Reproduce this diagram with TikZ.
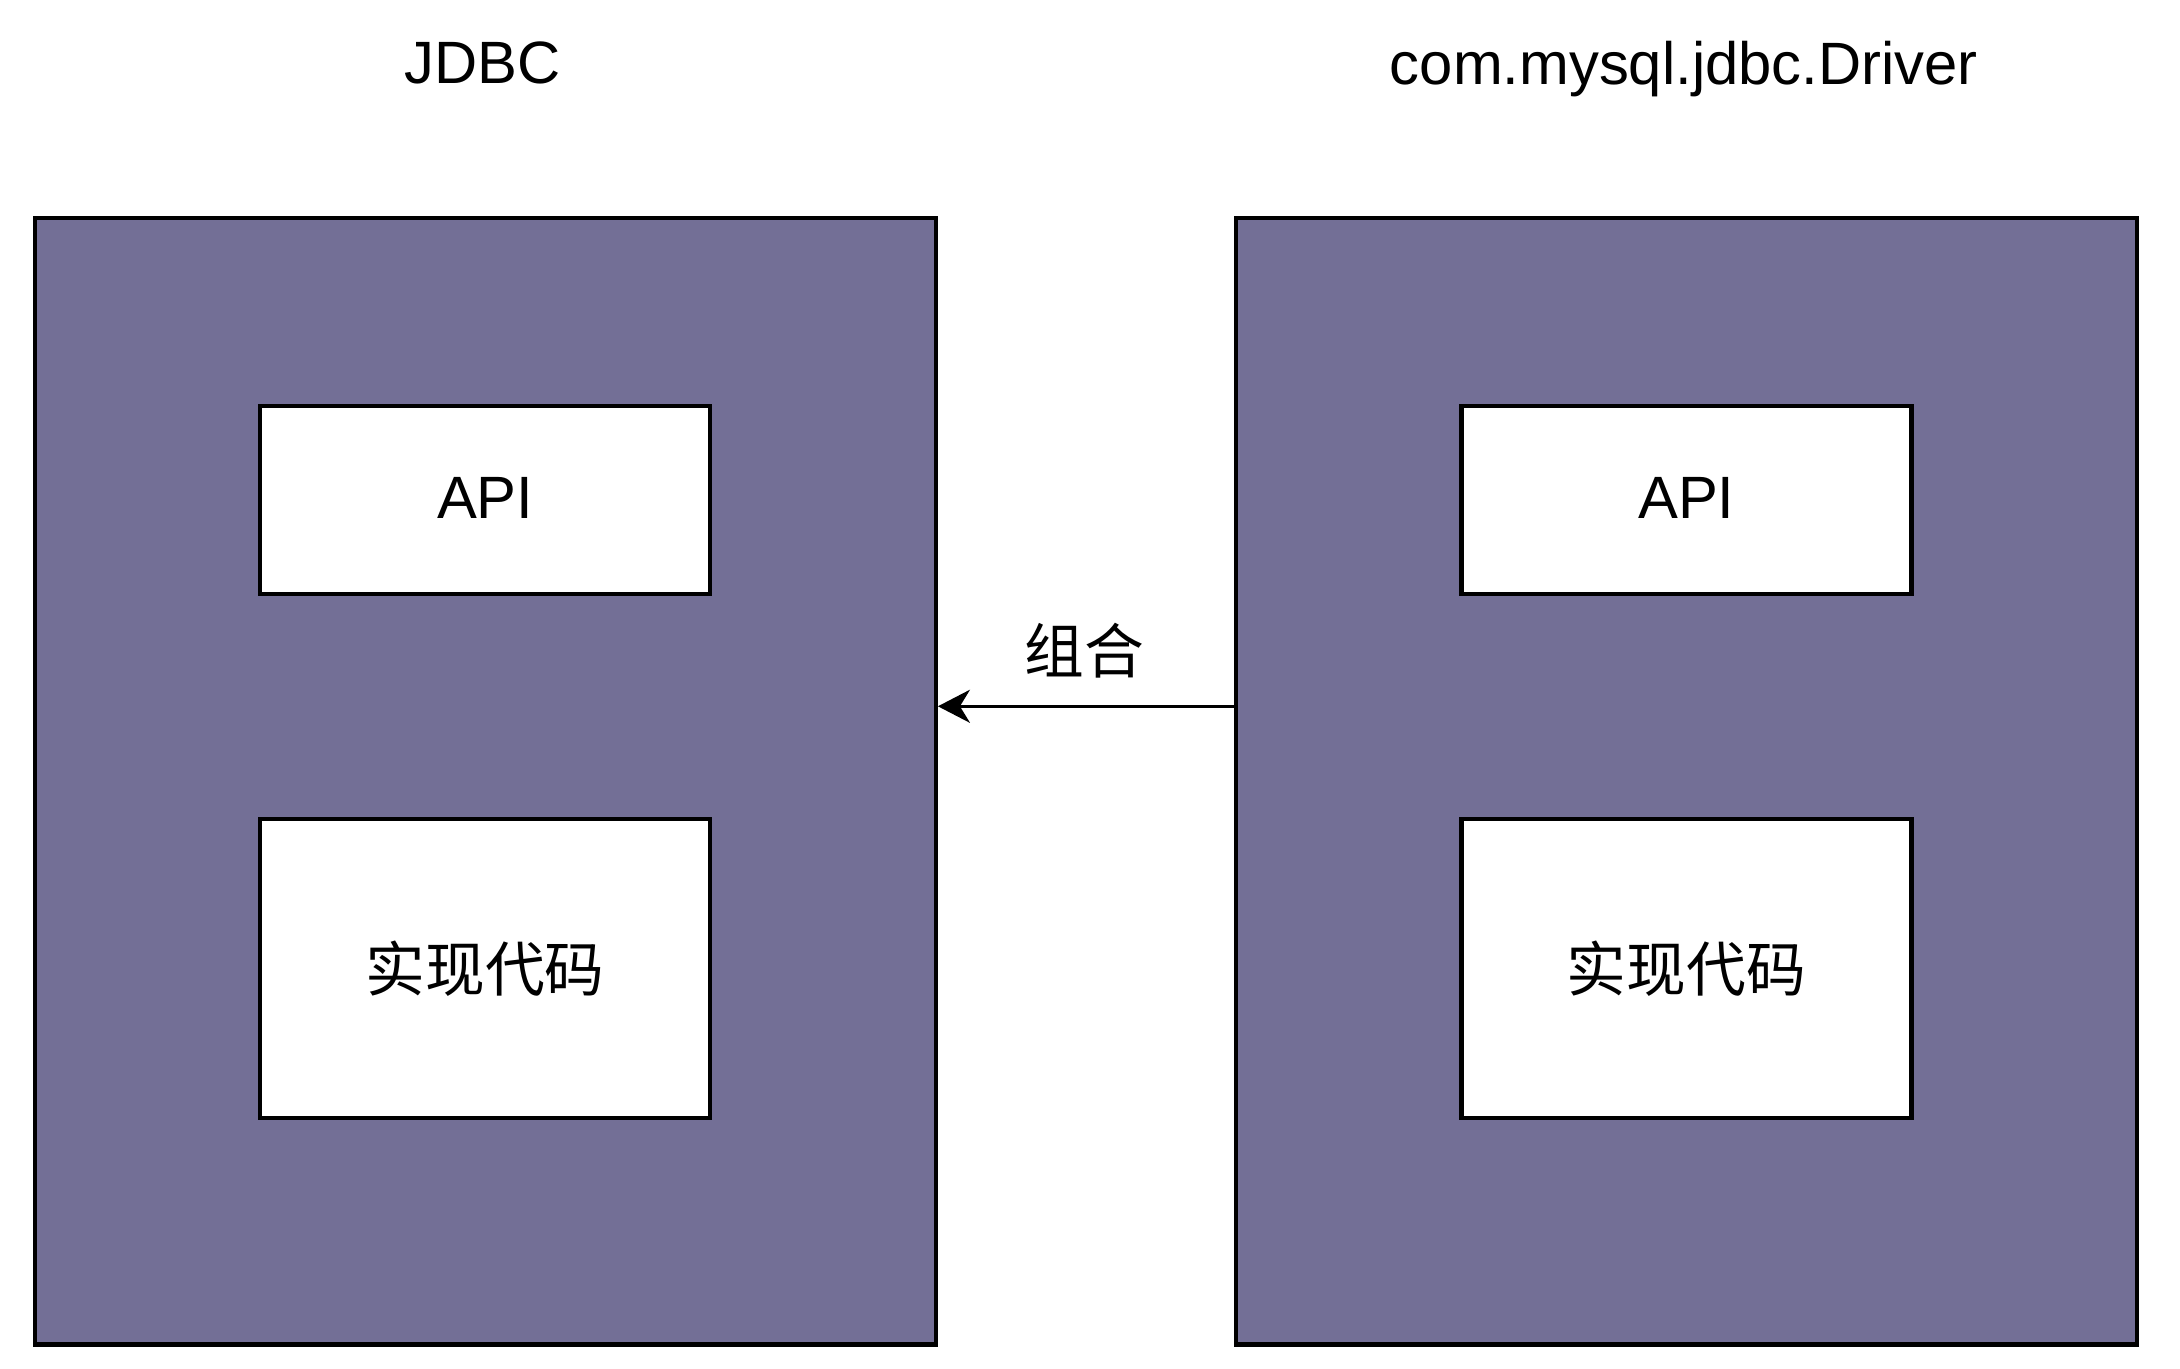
\documentclass[tikz,border=0pt]{standalone}
\usepackage{fontspec}
\setmainfont{Liberation Sans}
\newfontfamily\cjk{Noto Sans CJK SC}
\usepackage{tikz}
\usetikzlibrary{arrows.meta}
\definecolor{boxpurple}{RGB}{115,111,150}

\begin{document}
\begin{tikzpicture}[outer/.style={draw, fill=boxpurple, line width=1.2pt, minimum width=9.01cm, minimum height=11.26cm}, part/.style={draw, fill=white, line width=1.2pt, minimum width=4.5cm, inner sep=0pt, font=\fontsize{17}{20}\selectfont}, title/.style={font=\fontsize{17}{20}\selectfont}, n/.style={-{Stealth[length=3.2mm, width=3.3mm, inset=1mm]}, line width=0.9pt}]
                \useasboundingbox (0,0) rectangle (21.8,13.68);
                % nodes
                \node[title] (tjdbc) at (4.824,13.054) {JDBC};
                \node[title] (tdriver) at (16.837,12.99) {com.mysql.jdbc.Driver};
                \node[outer] (jdbc) at (4.853,5.866) {};
                \node[outer] (driver) at (16.865,5.866) {};
                \node[part, minimum height=1.877cm] (api1) at (4.852,8.681) {\raisebox{0.4mm}{API}};
                \node[part, minimum height=2.988cm] (impl1) at (4.852,3.996) {\cjk 实现代码};
                \node[part, minimum height=1.877cm] (api2) at (16.864,8.681) {\raisebox{0.4mm}{API}};
                \node[part, minimum height=2.988cm] (impl2) at (16.864,3.996) {\cjk 实现代码};
                \coordinate (from) at (driver.west |- 0,6.617);
                \coordinate (to) at (jdbc.east |- 0,6.617);
                \node[title] (comb) at (10.845,7.173) {\cjk 组合};
                % edges
                \draw [n] (from) -- (to);
            \end{tikzpicture}
\end{document}
